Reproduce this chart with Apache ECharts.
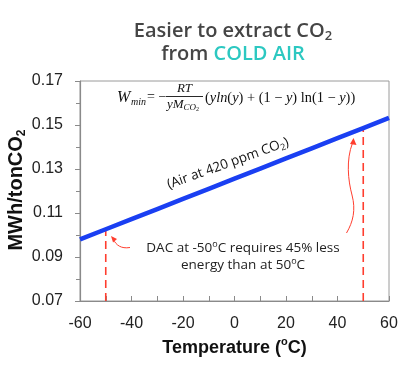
<!DOCTYPE html>
<html><head><meta charset="utf-8">
<script src="https://cdn.jsdelivr.net/npm/echarts@6/dist/echarts.min.js"></script>
<style>html,body{margin:0;padding:0;background:#fff}#c{width:407px;height:365px}</style>
</head><body><div id="c"></div>
<script>
// Data
const temps = [-60, -50, -40, -30, -20, -10, 0, 10, 20, 30, 40, 50, 60];
const wmin = [0.0980, 0.1026, 0.1072, 0.1118, 0.1164, 0.1210, 0.1256, 0.1302, 0.1348, 0.1394, 0.1440, 0.1486, 0.1532];
const markTemps = [-50, 50];
const markValues = [0.1026, 0.1486];
const yMin = 0.07, yMax = 0.17, yStep = 0.02;
const xMin = -60, xMax = 60, xStep = 20;

const RED = '#ff3d2e';
const BLUE = '#1a3ff2';
const SANS = '"Liberation Sans", Arial, sans-serif';
const OPEN = '"Open Sans", sans-serif';
const SERIF = '"Liberation Serif", "DejaVu Serif", serif';

const chart = echarts.init(document.getElementById('c'), null, {renderer: 'canvas'});

const lineData = temps.map((t, i) => [t, wmin[i]]);
const markSeries = markTemps.map((t, i) => ({
  type: 'line', data: [[t, yMin], [t, markValues[i]]], symbol: 'none', silent: true, z: 1,
  lineStyle: {color: RED, width: 1.6, type: [8, 5]}
}));

const option = {
  animation: false,
  grid: {left: 80, right: 18, top: 81, bottom: 64, containLabel: false, outerBoundsMode: 'none',
         show: true, borderColor: '#9a9a9a', borderWidth: 1, backgroundColor: 'transparent'},
  xAxis: {
    type: 'value', min: xMin, max: xMax, interval: xStep,
    name: '{b|Temperature (}{s|o}{b|C)}', nameLocation: 'middle', nameGap: 33,
    nameTextStyle: {rich: {
      b: {fontFamily: SANS, fontWeight: 'bold', fontSize: 18, color: '#111', lineHeight: 22},
      s: {fontFamily: SANS, fontWeight: 'bold', fontSize: 11, color: '#111', lineHeight: 11, verticalAlign: 'top'}
    }},
    axisLine: {show: true, onZero: false, lineStyle: {color: '#8a8a8a', width: 1.2}},
    axisTick: {show: true, inside: true, length: 5, lineStyle: {color: '#8a8a8a'}},
    minorTick: {show: true, splitNumber: 2, length: 5, lineStyle: {color: '#8a8a8a'}},
    splitLine: {show: false},
    axisLabel: {fontFamily: SANS, fontSize: 16, color: '#222', margin: 15}
  },
  yAxis: {
    type: 'value', min: yMin, max: yMax, interval: yStep,
    axisLine: {show: true, onZero: false, lineStyle: {color: '#8a8a8a', width: 1.2}},
    axisTick: {show: true, inside: false, length: 5, lineStyle: {color: '#8a8a8a'}},
    minorTick: {show: true, splitNumber: 2, length: 4, lineStyle: {color: '#8a8a8a'}},
    splitLine: {show: false},
    axisLabel: {fontFamily: SANS, fontSize: 16, color: '#222', margin: 17, formatter: v => v.toFixed(2)}
  },
  series: [
    {type: 'line', data: lineData, symbol: 'none', silent: true, z: 3,
     lineStyle: {color: BLUE, width: 4.5}},
    ...markSeries
  ],
  graphic: [
    // Title
    {type: 'text', x: 233, y: 43, style: {
      text: '{a|Easier to extract CO}{s|2}\n{a|from }{t|COLD AIR}',
      align: 'center', verticalAlign: 'middle',
      rich: {
        a: {fontFamily: OPEN, fontWeight: 600, fontSize: 20, fill: '#454545', lineHeight: 23},
        s: {fontFamily: OPEN, fontWeight: 600, fontSize: 13, fill: '#454545', lineHeight: 13, verticalAlign: 'bottom'},
        t: {fontFamily: OPEN, fontWeight: 600, fontSize: 20, fill: '#2cc8c1', lineHeight: 23}
      }
    }},
    // Y axis title
    {type: 'text', x: 16, y: 190, rotation: Math.PI / 2, style: {
      text: '{b|MWh/tonCO}{s|2}', align: 'center', verticalAlign: 'middle',
      rich: {
        b: {fontFamily: SANS, fontWeight: 'bold', fontSize: 20, fill: '#111', lineHeight: 24},
        s: {fontFamily: SANS, fontWeight: 'bold', fontSize: 12, fill: '#111', lineHeight: 12, verticalAlign: 'bottom'}
      }
    }},
    // Formula
    {type: 'text', x: 117, y: 98, style: {text: 'W', font: 'italic 16px ' + SERIF, fill: '#111', verticalAlign: 'middle'}},
    {type: 'text', x: 131, y: 102, style: {text: 'min', font: 'italic 10px ' + SERIF, fill: '#111', verticalAlign: 'middle'}},
    {type: 'text', x: 147, y: 97, style: {text: '= \u2212', font: '14px ' + SERIF, fill: '#111', verticalAlign: 'middle'}},
    {type: 'line', shape: {x1: 166, y1: 96.5, x2: 203, y2: 96.5}, style: {stroke: '#111', lineWidth: 0.9}},
    {type: 'text', x: 184.5, y: 89, style: {text: 'RT', font: 'italic 13px ' + SERIF, fill: '#111', align: 'center', verticalAlign: 'middle'}},
    {type: 'text', x: 167, y: 105, style: {
      text: '{i|yM}{c|CO}{d|2}', verticalAlign: 'middle',
      rich: {
        i: {font: 'italic 13px ' + SERIF, fill: '#111', lineHeight: 14},
        c: {font: 'italic 9px ' + SERIF, fill: '#111', lineHeight: 9, verticalAlign: 'bottom'},
        d: {font: '6px ' + SERIF, fill: '#111', lineHeight: 6, verticalAlign: 'bottom'}
      }
    }},
    {type: 'text', x: 205, y: 98, style: {
      text: '{n|(}{i|yln}{n|(}{i|y}{n|) + (1 \u2212 }{i|y}{n|) ln(1 \u2212 }{i|y}{n|))}', verticalAlign: 'middle',
      rich: {
        n: {font: '14.4px ' + SERIF, fill: '#111'},
        i: {font: 'italic 14.4px ' + SERIF, fill: '#111'}
      }
    }},
    // Rotated label along the line
    {type: 'text', x: 228, y: 163.5, rotation: 0.345, style: {
      text: '{a|(Air at 420 ppm CO}{s|2}{a|)}', align: 'center', verticalAlign: 'middle',
      rich: {
        a: {fontFamily: OPEN, fontSize: 13.5, fill: '#111', lineHeight: 16},
        s: {fontFamily: OPEN, fontSize: 9, fill: '#111', lineHeight: 9, verticalAlign: 'bottom'}
      }
    }},
    // DAC note
    {type: 'text', x: 243, y: 257, style: {
      text: '{a|DAC at -50}{s|o}{a|C requires 45% less}\n{a|energy than at 50}{s|o}{a|C}',
      align: 'center', verticalAlign: 'middle',
      rich: {
        a: {fontFamily: OPEN, fontSize: 13.5, fill: '#222', lineHeight: 17},
        s: {fontFamily: OPEN, fontSize: 9, fill: '#222', lineHeight: 9, verticalAlign: 'top'}
      }
    }},
    // Small arrow
    {type: 'bezierCurve', shape: {x1: 130, y1: 247.5, x2: 113.5, y2: 239.5, cpx1: 121, cpy1: 249, cpx2: 116, cpy2: 245}, style: {stroke: RED, lineWidth: 1, fill: null}},
    {type: 'polygon', shape: {points: [[111, 236], [117, 239], [113, 242.5]]}, style: {fill: RED}},
    // Long wavy arrow
    {type: 'bezierCurve', shape: {x1: 346.5, y1: 233, cpx1: 353, cpy1: 222, cpx2: 356, cpy2: 210, x2: 352, y2: 195}, style: {stroke: RED, lineWidth: 1, fill: null}},
    {type: 'bezierCurve', shape: {x1: 352, y1: 195, cpx1: 348, cpy1: 180, cpx2: 346, cpy2: 160, x2: 352.5, y2: 143}, style: {stroke: RED, lineWidth: 1, fill: null}},
    {type: 'polygon', shape: {points: [[353.5, 138], [356.5, 145], [350, 144]]}, style: {fill: RED}}
  ]
};
chart.setOption(option);
</script>
</body></html>
